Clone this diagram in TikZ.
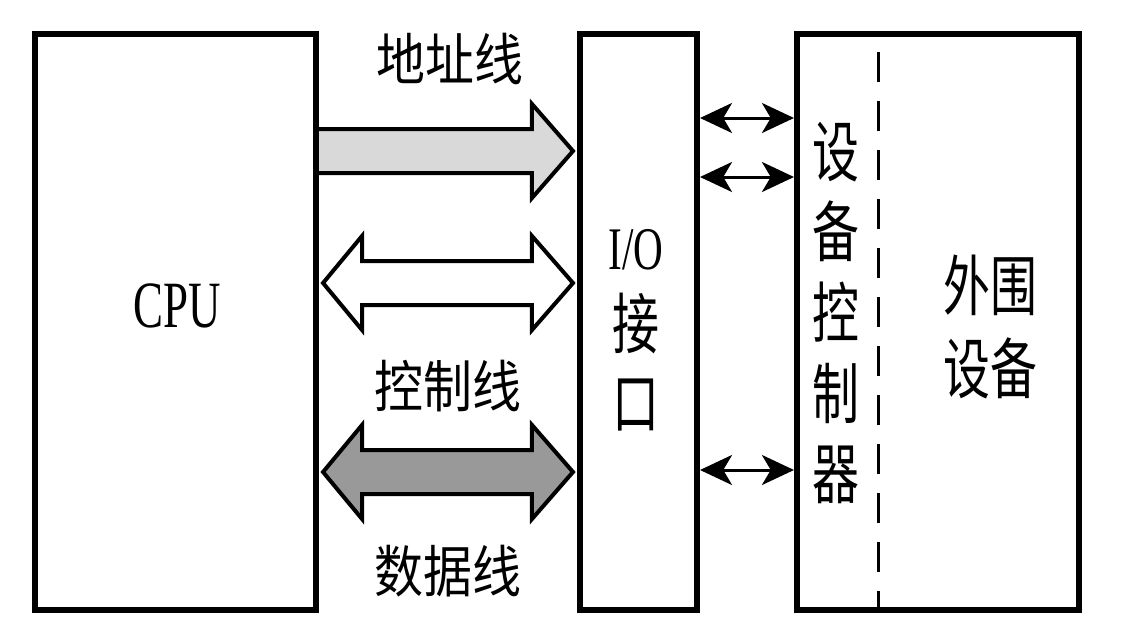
\documentclass[tikz,border=0pt]{standalone}
\usepackage{fontspec}
\setmainfont{Liberation Serif}
\newfontfamily\latinfont[FakeStretch=0.68]{Liberation Serif}
\newfontfamily\cjkfont[FakeStretch=0.71]{Noto Sans CJK SC}
\newfontfamily\cjklabel[FakeStretch=0.87]{Noto Sans CJK SC}
\usepackage{tikz}
\usetikzlibrary{positioning,calc,arrows.meta}
\definecolor{addrgray}{HTML}{D9D9D9}
\definecolor{datagray}{HTML}{999999}

\begin{document}
\begin{tikzpicture}[x=0.025cm,y=-0.025cm,
    bloc/.style={rectangle,draw,line width=0.15cm,minimum height=14.4cm,inner sep=0pt},
    bus/.style={draw,line width=0.1cm,line join=miter},
    link/.style={line width=0.075cm,
        {Stealth[length=0.8cm,width=0.75cm,inset=0.22cm]}-{Stealth[length=0.8cm,width=0.75cm,inset=0.22cm]}},
    buslabel/.style={font=\cjklabel\fontsize{40}{48}\selectfont}]

\useasboundingbox (0,0) rectangle (1124,639);

% Blocs
\node[bloc,minimum width=7.025cm] (cpu) at (175.5,322) {};
\node[bloc,minimum width=2.925cm] (io) at (638.5,322) {};
\node[bloc,minimum width=7.05cm] (dev) at (938,322) {};

% Textes des blocs
\node[anchor=base,font=\latinfont\fontsize{47}{56}\selectfont] (cpulabel) at (177,327) {CPU};
\node[align=center,font=\fontsize{43}{56.2}\selectfont] (iolabel) at (636,330)
    {{\latinfont I/O}\\{\cjkfont\fontsize{47}{56.2}\selectfont 接}\\{\cjkfont\fontsize{47}{56.2}\selectfont 口}};
\node[align=center,font=\cjkfont\fontsize{47}{57.3}\selectfont] (ctrllabel) at (836,313) {设\\备\\控\\制\\器};
\node[align=center,font=\cjkfont\fontsize{47}{59}\selectfont] (devlabel) at (990,327) {外围\\设备};

% Séparation contrôleur / périphérique
\draw[line width=0.075cm,dash pattern=on 0.75cm off 0.475cm] (878,52) -- (dev.south -| 878,0);

% Bus d'adresses
\coordinate (a1) at (cpu.east |- 0,151);
\coordinate (a2) at (io.west |- 0,151);
\filldraw[bus,fill=addrgray] ($(a1)+(0,-22)$) -- ($(a2)+(-45,-22)$) -- ($(a2)+(-45,-47)$)
    -- ($(a2)+(-4,0)$) -- ($(a2)+(-45,47)$) -- ($(a2)+(-45,22)$) -- ($(a1)+(0,22)$);

% Bus de contrôle
\coordinate (c1) at (cpu.east |- 0,283);
\coordinate (c2) at (io.west |- 0,283);
\filldraw[bus,fill=white] ($(c1)+(4,0)$) -- ($(c1)+(43,-47)$) -- ($(c1)+(43,-22)$)
    -- ($(c2)+(-45,-22)$) -- ($(c2)+(-45,-47)$) -- ($(c2)+(-4,0)$) -- ($(c2)+(-45,47)$)
    -- ($(c2)+(-45,22)$) -- ($(c1)+(43,22)$) -- ($(c1)+(43,47)$) -- cycle;

% Bus de données
\coordinate (d1) at (cpu.east |- 0,472);
\coordinate (d2) at (io.west |- 0,472);
\filldraw[bus,fill=datagray] ($(d1)+(4,0)$) -- ($(d1)+(43,-47)$) -- ($(d1)+(43,-22)$)
    -- ($(d2)+(-45,-22)$) -- ($(d2)+(-45,-47)$) -- ($(d2)+(-4,0)$) -- ($(d2)+(-45,47)$)
    -- ($(d2)+(-45,22)$) -- ($(d1)+(43,22)$) -- ($(d1)+(43,47)$) -- cycle;

% Etiquettes des bus
\node[buslabel] (addrname) at (450,59) {地址线};
\node[buslabel] (ctrlname) at (448,386) {控制线};
\node[buslabel] (dataname) at (448,571) {数据线};

% Liaisons interface / contrôleur
\draw[link] (io.east |- 0,118) -- (dev.west |- 0,118);
\draw[link] (io.east |- 0,177) -- (dev.west |- 0,177);
\draw[link] (io.east |- 0,470) -- (dev.west |- 0,470);

\end{tikzpicture}
\end{document}
